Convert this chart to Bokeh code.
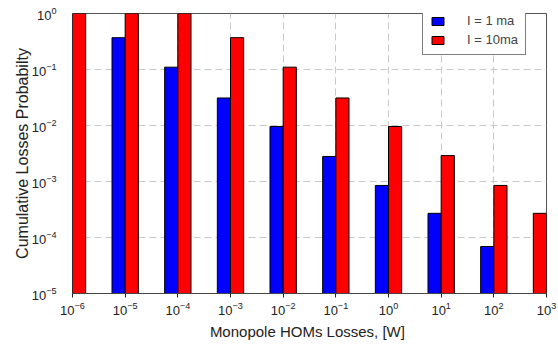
from bokeh.plotting import figure
from bokeh.models import (ColumnDataSource, Legend, LegendItem, LogTicker,
                          LogTickFormatter, Range1d)
from bokeh.embed import file_html
from bokeh.resources import INLINE

# Loss bins (decade exponents of the loss in W) and cumulative probabilities
blue_exp = [-5, -4, -3, -2, -1, 0, 1, 2]
blue_prob = [0.37, 0.11, 0.031, 0.0096, 0.0028, 0.00085, 0.00027, 0.000069]

red_exp = [-6, -5, -4, -3, -2, -1, 0, 1, 2, 3]
red_prob = [1.0, 1.0, 1.0, 0.37, 0.11, 0.031, 0.0096, 0.0029, 0.00085, 0.00027]

series_labels = ["I = 1 ma", "I = 10ma"]

X_MIN, X_MAX = -6, 3
Y_MIN, Y_MAX = 1e-5, 1.0
BAR_W = 0.25  # bar width in decades

# blue bars sit just left of each decade, red bars just right of it
blue_left = [10 ** (e - BAR_W) for e in blue_exp]
blue_right = [10 ** e for e in blue_exp]
red_left = [10 ** min(e, X_MAX - BAR_W) for e in red_exp]
red_right = [10 ** min(e + BAR_W, X_MAX) for e in red_exp]

blue_src = ColumnDataSource(dict(left=blue_left, right=blue_right,
                                 top=blue_prob, bottom=[Y_MIN] * len(blue_prob)))
red_src = ColumnDataSource(dict(left=red_left, right=red_right,
                                top=red_prob, bottom=[Y_MIN] * len(red_prob)))

p = figure(width=558, height=346, x_axis_type="log", y_axis_type="log",
           x_range=Range1d(10 ** X_MIN, 10 ** X_MAX),
           y_range=Range1d(Y_MIN, Y_MAX),
           output_backend="svg", toolbar_location=None)
p.min_border_left = 72
p.min_border_right = 12
p.min_border_top = 13
p.min_border_bottom = 53
p.background_fill_color = "white"
p.border_fill_color = "white"
p.outline_line_color = "#555555"
p.outline_line_width = 1

for ax in (p.xaxis[0], p.yaxis[0]):
    ax.ticker = LogTicker(num_minor_ticks=0)
    ax.formatter = LogTickFormatter()
    ax.minor_tick_line_color = None
    ax.major_label_text_font = "Liberation Sans"
    ax.major_label_text_font_size = "13px"
    ax.major_label_text_color = "#222222"
    ax.axis_label_text_font = "Liberation Sans"
    ax.axis_label_text_font_style = "normal"
    ax.axis_label_text_color = "#222222"

p.xaxis.axis_label = "Monopole HOMs  Losses, [W]"
p.xaxis.axis_label_text_font_size = "15px"
p.xaxis.axis_line_color = "#444444"
p.xaxis.major_tick_line_color = "#222222"
p.xaxis.major_tick_out = 4
p.xaxis.major_tick_in = 0
p.xaxis.major_label_standoff = 4
p.xaxis.axis_label_standoff = 5

p.yaxis.axis_label = "Cumulative Losses Probabilty"
p.yaxis.axis_label_text_font_size = "16px"
p.yaxis.axis_line_color = None
p.yaxis.major_tick_line_color = None
p.yaxis.major_label_standoff = 10
p.yaxis.axis_label_standoff = -2

for g in (p.xgrid[0], p.ygrid[0]):
    g.grid_line_color = "#c8c8c8"
    g.grid_line_dash = "7 4"
    g.grid_line_width = 1
    g.minor_grid_line_color = None

rb = p.quad(left="left", right="right", top="top", bottom="bottom", source=blue_src,
            fill_color="#0000ff", line_color="black", line_width=1)
rr = p.quad(left="left", right="right", top="top", bottom="bottom", source=red_src,
            fill_color="#ff0000", line_color="black", line_width=1)

legend = Legend(items=[LegendItem(label=series_labels[0], renderers=[rb]),
                       LegendItem(label=series_labels[1], renderers=[rr])],
                location=(350, 238))
legend.glyph_width = 15
legend.glyph_height = 10
legend.label_standoff = 22
legend.label_text_font = "Liberation Sans"
legend.label_text_font_size = "13px"
legend.label_height = 12
legend.spacing = 4
legend.padding = 7
legend.margin = 0
legend.border_line_color = "black"
legend.border_line_width = 1
legend.background_fill_color = "white"
legend.background_fill_alpha = 1.0
p.add_layout(legend, "center")

open("out.html", "w").write(file_html(p, INLINE))
